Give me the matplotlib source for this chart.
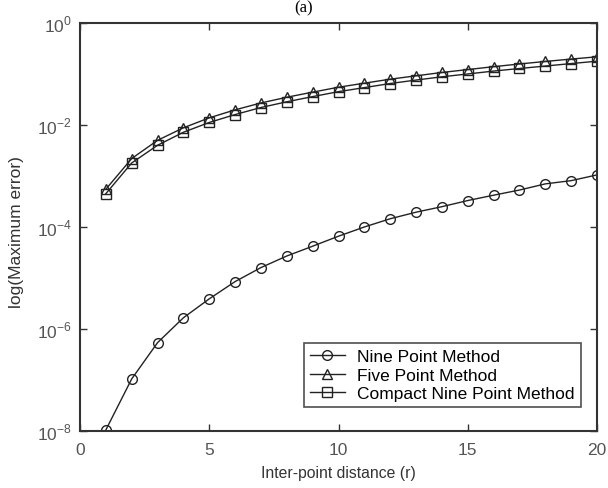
import matplotlib
matplotlib.use("Agg")
import matplotlib.pyplot as plt
from matplotlib.ticker import FixedLocator, NullLocator

plt.rcParams['font.family'] = ['Liberation Sans', 'DejaVu Sans']
plt.rcParams['mathtext.fontset'] = 'custom'
plt.rcParams['mathtext.rm'] = 'Liberation Sans'

r = list(range(1, 21))
nine_point = [1.05e-8, 1.05e-7, 5.4e-7, 1.66e-6, 3.9e-6, 8.5e-6, 1.6e-5, 2.7e-5, 4.2e-5, 6.6e-5,
              1.0e-4, 1.45e-4, 1.95e-4, 2.5e-4, 3.3e-4, 4.2e-4, 5.3e-4, 7.0e-4, 8.1e-4, 1.05e-3]
five_point = [5.5e-4, 2.2e-3, 5.0e-3, 8.8e-3, 1.38e-2, 1.98e-2, 2.7e-2, 3.5e-2, 4.4e-2, 5.5e-2,
              6.6e-2, 7.9e-2, 9.2e-2, 0.107, 0.122, 0.139, 0.157, 0.176, 0.196, 0.217]
compact_nine = [4.5e-4, 1.8e-3, 4.0e-3, 7.2e-3, 1.12e-2, 1.6e-2, 2.2e-2, 2.85e-2, 3.6e-2, 4.5e-2,
                5.4e-2, 6.5e-2, 7.6e-2, 8.8e-2, 0.10, 0.114, 0.128, 0.143, 0.16, 0.178]
series_labels = ["Nine Point Method", "Five Point Method", "Compact Nine Point Method"]
x_ticks = [0, 5, 10, 15, 20]
y_ticks = [1e-8, 1e-6, 1e-4, 1e-2, 1e0]
y_ticklabels = [r"$10^{-8}$", r"$10^{-6}$", r"$10^{-4}$", r"$10^{-2}$", r"$10^{0}$"]

fig = plt.figure(figsize=(6.08, 4.89), dpi=100)
ax = fig.add_axes([0.1316, 0.1166, 0.8504, 0.8344])

col = '#222222'
kw = dict(color=col, lw=1.0, markerfacecolor='none', markeredgecolor=col, markeredgewidth=1.0)
ax.plot(r, nine_point, marker='o', markersize=7, label=series_labels[0], **kw)
ax.plot(r, five_point, marker='^', markersize=6.5, label=series_labels[1], **kw)
ax.plot(r, compact_nine, marker='s', markersize=7, label=series_labels[2], **kw)

ax.set_yscale('log')
ax.set_xlim(0, 20)
ax.set_ylim(1e-8, 1e0)
ax.set_xticks(x_ticks)
ax.set_xticklabels([str(v) for v in x_ticks])
ax.yaxis.set_major_locator(FixedLocator(y_ticks))
ax.yaxis.set_minor_locator(NullLocator())
ax.set_yticklabels(y_ticklabels)
ax.tick_params(direction='in', top=True, right=True, length=5, width=1, labelsize=12.5,
               colors='#333333', labelcolor='#555555')
ax.tick_params(axis='x', pad=8)
ax.tick_params(axis='y', pad=6)
for s in ax.spines.values():
    s.set_linewidth(1.5)
    s.set_color('#333333')

ax.set_xlabel("Inter-point distance (r)", fontsize=11.3, color='#333333', labelpad=6)
ax.set_ylabel("log(Maximum error)", fontsize=12.5, color='#333333', va='center')
ax.yaxis.set_label_coords(-0.122, 0.49)

leg = ax.legend(loc='lower right', bbox_to_anchor=(0.968, 0.058), fontsize=12.5, frameon=True,
                fancybox=False, edgecolor='#222222', handlelength=2.0, borderpad=0.35,
                labelspacing=0.2, handletextpad=0.7, borderaxespad=0)
leg.get_frame().set_linewidth(1.2)

fig.text(0.5, 1.0, "(a)", ha='center', va='top', fontsize=12, family='Liberation Serif')

fig.savefig("out.png", dpi=100)
